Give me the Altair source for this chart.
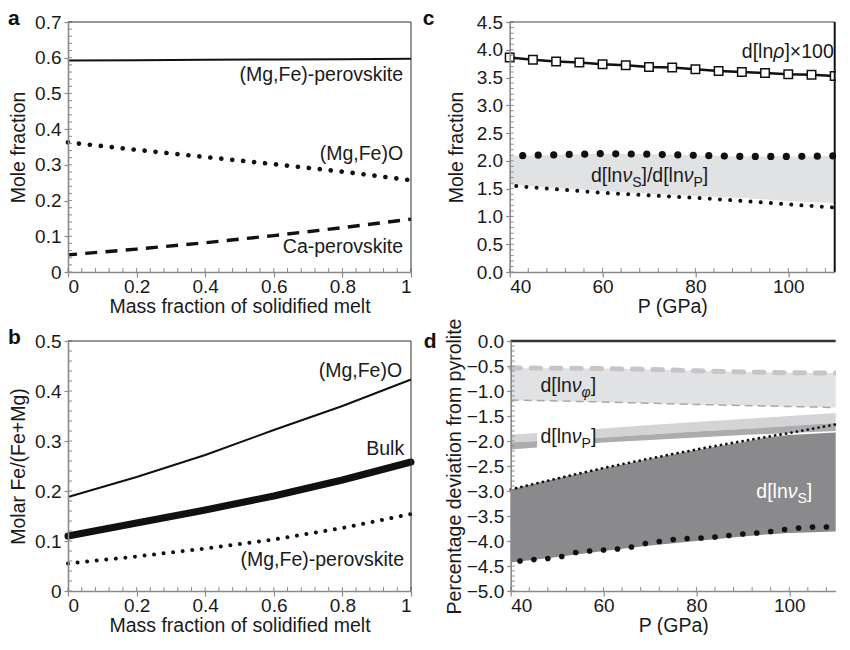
import altair as alt
import pandas as pd

FONT = "Liberation Sans"
INK = "#1a1a1a"
AX = "#8a8a8a"

# ---------------- data ----------------
# panel a: mole fraction vs mass fraction of solidified melt
a_frac = [0.0, 0.2, 0.4, 0.6, 0.8, 1.0]
a_mgpv = [0.592, 0.593, 0.594, 0.595, 0.596, 0.597]
a_mgo = [0.363, 0.342, 0.322, 0.302, 0.281, 0.257]
a_capv = [0.048, 0.064, 0.082, 0.102, 0.124, 0.148]

# panel b: molar Fe/(Fe+Mg)
b_frac = [0.0, 0.2, 0.4, 0.6, 0.8, 1.0]
b_mgo = [0.188, 0.228, 0.272, 0.322, 0.370, 0.423]
b_bulk = [0.110, 0.136, 0.162, 0.190, 0.222, 0.258]
b_mgpv = [0.055, 0.069, 0.085, 0.103, 0.126, 0.154]

# panel c
c_p_sq = [40, 45, 50, 55, 60, 65, 70, 75, 80, 85, 90, 95, 100, 105, 110]
c_rho = [3.86, 3.82, 3.79, 3.77, 3.74, 3.72, 3.69, 3.68, 3.65, 3.62, 3.60, 3.58, 3.56, 3.55, 3.53]
c_p = [40, 50, 60, 70, 80, 90, 100, 110]
c_ratio_hi = [2.09, 2.11, 2.13, 2.12, 2.10, 2.08, 2.08, 2.09]
c_band_lo = [1.57, 1.51, 1.46, 1.41, 1.37, 1.33, 1.28, 1.24]
c_ratio_lo = [1.555, 1.49, 1.425, 1.38, 1.336, 1.28, 1.217, 1.16]

# panel d
d_p = [40, 50, 60, 70, 80, 90, 100, 110]
d_phi_hi = [-0.54, -0.545, -0.55, -0.57, -0.595, -0.62, -0.635, -0.64]
d_phi_lo = [-1.18, -1.20, -1.22, -1.245, -1.27, -1.29, -1.31, -1.33]
d_vp_hi = [-1.87, -1.82, -1.75, -1.68, -1.62, -1.56, -1.50, -1.44]
d_vp_mid = [-2.03, -1.98, -1.93, -1.87, -1.81, -1.76, -1.70, -1.64]
d_vp_lo = [-2.17, -2.10, -2.03, -1.98, -1.93, -1.88, -1.84, -1.80]
d_vs_p = [40, 50, 60, 70, 80, 90, 95, 100, 110]
d_vs_top = [-2.97, -2.75, -2.55, -2.36, -2.18, -2.02, -1.93, -1.88, -1.83]
d_vs_bot = [-4.43, -4.32, -4.20, -4.09, -4.00, -3.91, -3.87, -3.84, -3.81]
d_vs_line = [-2.97, -2.75, -2.54, -2.35, -2.17, -2.00, -1.84, -1.67]
d_dot_p = [42, 45, 48, 51, 54, 57, 60, 63, 66, 69, 72, 75, 78, 81, 84, 87, 90, 93, 96, 99, 102, 105, 108]
d_dot_v = [-4.40, -4.37, -4.35, -4.31, -4.23, -4.20, -4.18, -4.16, -4.12, -4.05, -4.01, -3.97,
           -3.95, -3.94, -3.92, -3.89, -3.86, -3.84, -3.81, -3.77, -3.74, -3.72, -3.72]

# tick values
a_xticks = [0, 0.2, 0.4, 0.6, 0.8, 1.0]
a_yticks = [0, 0.1, 0.2, 0.3, 0.4, 0.5, 0.6, 0.7]
b_yticks = [0, 0.1, 0.2, 0.3, 0.4, 0.5]
c_xticks = [40, 60, 80, 100]
c_yticks = [0.0, 0.5, 1.0, 1.5, 2.0, 2.5, 3.0, 3.5, 4.0, 4.5]
d_yticks = [0.0, -0.5, -1.0, -1.5, -2.0, -2.5, -3.0, -3.5, -4.0, -4.5, -5.0]
minor_frac = [round(i * 0.04, 2) for i in range(26)]
minor_a_y = [round(i * 0.02, 2) for i in range(36)]
minor_b_y = [round(i * 0.02, 2) for i in range(26)]
minor_p = list(range(40, 111, 4))
minor_c_y = [round(i * 0.1, 1) for i in range(46)]
minor_d_y = [round(-i * 0.1, 1) for i in range(51)]

WL, WR, H = 343, 325, 250
FS = 19.5   # titles / annotations
LFS = 19    # tick labels
SUB = 14

CW = {'d': .556, '[': .278, 'l': .222, 'n': .556, ']': .278, '/': .278, '×': .584,
      '1': .556, '0': .556, 'S': .667, 'P': .667, 'ν': .5, 'ρ': .573, 'φ': .649}


def xaxis(values, title, expr=None, fmt=None):
    kw = dict(values=values, title=title, tickSize=5, labelPadding=15.5,
              labelBaseline="alphabetic", titleY=40.5, titleBaseline="alphabetic", zindex=1)
    if expr:
        kw["labelExpr"] = expr
    if fmt:
        kw["format"] = fmt
    return alt.Axis(**kw)


def yaxis(values, title, tx, h, expr=None, fmt=None):
    kw = dict(values=values, title=title, tickSize=4, labelPadding=3,
              titleX=tx, titleY=h / 2, titleAngle=270, titleBaseline="alphabetic",
              titleAlign="center", zindex=1)
    if expr:
        kw["labelExpr"] = expr
    if fmt:
        kw["format"] = fmt
    return alt.Axis(**kw)


def make_enc(xdom, ydom, xax, yax):
    X = alt.X("x:Q", scale=alt.Scale(domain=xdom, nice=False, zero=False), axis=xax)
    Y = alt.Y("y:Q", scale=alt.Scale(domain=ydom, nice=False, zero=False), axis=yax)
    return X, Y


def line(xs, ys, X, Y, **mk):
    df = pd.DataFrame({"x": xs, "y": ys})
    return alt.Chart(df).mark_line(strokeJoin="round", **mk).encode(x=X, y=Y)


def band(xs, y1, y2, X, Y, color):
    df = pd.DataFrame({"x": xs, "y": y1, "y2": y2})
    return alt.Chart(df).mark_area(color=color, opacity=1).encode(x=X, y=Y, y2=alt.Y2("y2:Q"))


def minor_ticks(xvals, yvals, X, Y, w, h):
    dx = pd.DataFrame({"x": xvals})
    dy = pd.DataFrame({"y": yvals})
    tx = alt.Chart(dx).mark_rule(color=AX, strokeWidth=1).encode(
        x=X, y=alt.value(h), y2=alt.value(h - 4))
    ty = alt.Chart(dy).mark_rule(color=AX, strokeWidth=1).encode(
        y=Y, x=alt.value(0), x2=alt.value(4))
    return [tx, ty]


def frame(w, h, top_w=1.0, top_c="#333", right=True, right_w=1.0, right_c="#333"):
    df = pd.DataFrame({"k": [0]})
    out = [alt.Chart(df).mark_rule(color=top_c, strokeWidth=top_w).encode(
        x=alt.value(0), x2=alt.value(w), y=alt.value(0))]
    if right:
        out.append(alt.Chart(df).mark_rule(color=right_c, strokeWidth=right_w).encode(
            x=alt.value(w), y=alt.value(0), y2=alt.value(h)))
    return out


def letter(ch, px, py):
    df = pd.DataFrame({"k": [0]})
    return alt.Chart(df).mark_text(text=ch, font=FONT, fontSize=21, fontWeight="bold",
                                   align="left", baseline="alphabetic", color="#111").encode(
        x=alt.value(px), y=alt.value(py))


def label(x, y, text, X, Y, align="right", color=INK, size=FS):
    df = pd.DataFrame({"x": [x], "y": [y]})
    return alt.Chart(df).mark_text(text=text, font=FONT, fontSize=size, align=align,
                                   baseline="alphabetic", color=color).encode(x=X, y=Y)


def rich(x, y, parts, X, Y, color=INK):
    df = pd.DataFrame({"x": [x], "y": [y]})
    out = []
    off = 0.0
    for text, size, italic, dy in parts:
        out.append(alt.Chart(df).mark_text(
            text=text, font=FONT, fontSize=size, fontStyle="italic" if italic else "normal",
            align="left", baseline="alphabetic", dx=off, dy=dy, color=color).encode(x=X, y=Y))
        off += sum(CW.get(ch, 0.55) for ch in text) * size
    return out


def nu(sub, sub_italic=False):
    return [("d[ln", FS, False, 0), ("ν", FS, True, 0), (sub, SUB, sub_italic, 5), ("]", FS, False, 0)]


# ---------------- panel a ----------------
frac_expr = "datum.value == 0 ? '0' : datum.value == 1 ? '1' : format(datum.value, '.1f')"
y0_expr = "datum.value == 0 ? '0' : format(datum.value, '.1f')"
Xa, Ya = make_enc([0, 1], [0, 0.7], xaxis(a_xticks, "Mass fraction of solidified melt", expr=frac_expr),
                  yaxis(a_yticks, "Mole fraction", -44, H, expr=y0_expr))
pa = alt.layer(
    line(a_frac, a_mgpv, Xa, Ya, color="#111", strokeWidth=2),
    line(a_frac, a_mgo, Xa, Ya, color="#111", strokeWidth=4.7, strokeDash=[0.01, 11], strokeCap="round"),
    line(a_frac, a_capv, Xa, Ya, color="#111", strokeWidth=3.4, strokeDash=[12, 8.3], strokeDashOffset=3),
    label(0.977, 0.536, "(Mg,Fe)-perovskite", Xa, Ya),
    label(0.977, 0.315, "(Mg,Fe)O", Xa, Ya),
    label(0.977, 0.052, "Ca-perovskite", Xa, Ya),
    *minor_ticks(minor_frac, minor_a_y, Xa, Ya, WL, H),
    *frame(WL, H),
    letter("a", -60, 3),
).properties(width=WL, height=H)

# ---------------- panel b ----------------
Xb, Yb = make_enc([0, 1], [0, 0.5], xaxis(a_xticks, "Mass fraction of solidified melt", expr=frac_expr),
                  yaxis(b_yticks, "Molar Fe/(Fe+Mg)", -44, H, expr=y0_expr))
pb = alt.layer(
    line(b_frac, b_mgo, Xb, Yb, color="#111", strokeWidth=2),
    line(b_frac, b_bulk, Xb, Yb, color="#111", strokeWidth=7, strokeCap="round"),
    line(b_frac, b_mgpv, Xb, Yb, color="#111", strokeWidth=4, strokeDash=[0.01, 9.6], strokeCap="round"),
    label(0.974, 0.428, "(Mg,Fe)O", Xb, Yb),
    label(0.98, 0.272, "Bulk", Xb, Yb),
    label(0.98, 0.051, "(Mg,Fe)-perovskite", Xb, Yb),
    *minor_ticks(minor_frac, minor_b_y, Xb, Yb, WL, H),
    *frame(WL, H),
    letter("b", -60, 3),
).properties(width=WL, height=H)

# ---------------- panel c ----------------
Xc, Yc = make_enc([40, 110], [0, 4.5], xaxis(c_xticks, "P (GPa)", fmt="d"),
                  yaxis(c_yticks, "Mole fraction", -47, H, fmt=".1f"))
sq_df = pd.DataFrame({"x": c_p_sq, "y": c_rho})
pc = alt.layer(
    band(c_p, c_ratio_hi, c_band_lo, Xc, Yc, "#e1e2e4"),
    line(c_p, c_ratio_lo, Xc, Yc, color="#111", strokeWidth=4, strokeDash=[0.01, 10.2],
         strokeDashOffset=3.7, strokeCap="round"),
    line(c_p, c_ratio_hi, Xc, Yc, color="#111", strokeWidth=7.2, strokeDash=[0.01, 15.5],
         strokeDashOffset=2.5, strokeCap="round"),
    line(c_p_sq, c_rho, Xc, Yc, color="#111", strokeWidth=2.5),
    alt.Chart(sq_df).mark_point(shape="square", size=72, filled=True, fill="white",
                                stroke="#111", strokeWidth=1.5, opacity=1).encode(x=Xc, y=Yc),
    *rich(90.0, 3.86, [("d[ln", FS, False, 0), ("ρ", FS, True, 0), ("]×100", FS, False, 0)], Xc, Yc),
    *rich(57.5, 1.62, nu("S") + [("/", FS, False, 0)] + nu("P"), Xc, Yc),
    *minor_ticks(minor_p, minor_c_y, Xc, Yc, WR, H),
    *frame(WR, H, top_w=1, top_c="#444", right_w=2, right_c="#111"),
    letter("c", -87, 3),
).properties(width=WR, height=H)

# ---------------- panel d ----------------
Xd, Yd = make_enc([40, 110], [-5, 0], xaxis(c_xticks, "P (GPa)", fmt="d"),
                  yaxis(d_yticks, "Percentage deviation from pyrolite", -50, H, fmt=".1f"))
dot_df = pd.DataFrame({"x": d_dot_p, "y": d_dot_v})
box_df = pd.DataFrame({"x": [45.7], "x2": [58.0], "y": [-1.6], "y2": [-2.35]})
pd_ = alt.layer(
    band(d_p, d_phi_hi, d_phi_lo, Xd, Yd, "#e1e2e4"),
    line(d_p, d_phi_hi, Xd, Yd, color="#c6c6c8", strokeWidth=5, strokeDash=[9.7, 10.6], strokeCap="round"),
    line(d_p, d_phi_lo, Xd, Yd, color="#a9a9ab", strokeWidth=1.5, strokeDash=[8, 5]),
    band(d_p, d_vp_hi, d_vp_mid, Xd, Yd, "#d4d4d6"),
    band(d_p, d_vp_mid, d_vp_lo, Xd, Yd, "#acacae"),
    band(d_vs_p, d_vs_top, d_vs_bot, Xd, Yd, "#8a8a8c"),
    line(d_p, d_vs_line, Xd, Yd, color="#111", strokeWidth=2.8, strokeDash=[0.01, 5.5], strokeCap="round"),
    alt.Chart(dot_df).mark_circle(size=32, color="#111", opacity=1).encode(x=Xd, y=Yd),
    alt.Chart(box_df).mark_rect(color="white").encode(x=Xd, x2=alt.X2("x2:Q"), y=Yd, y2=alt.Y2("y2:Q")),
    *rich(46.4, -1.018, nu("φ", True), Xd, Yd),
    *rich(46.4, -2.03, nu("P"), Xd, Yd),
    *rich(92.9, -3.14, nu("S"), Xd, Yd, color="white"),
    *minor_ticks(minor_p, minor_d_y, Xd, Yd, WR, H),
    *frame(WR, H, top_w=2.5, top_c="#333", right=False),
    letter("d", -87, 7),
).properties(width=WR, height=H)

chart = alt.vconcat(
    alt.hconcat(pa, pc, spacing=8.7),
    alt.hconcat(pb, pd_, spacing=8.7),
    spacing=2,
).properties(
    padding={"left": 0, "top": 0, "right": -6, "bottom": 0},
).configure_view(stroke=None).configure_axis(
    labelFont=FONT, titleFont=FONT, labelFontSize=LFS, titleFontSize=FS,
    labelColor=INK, titleColor=INK, titleFontWeight="normal",
    domainColor=AX, domainWidth=1.6, tickColor=AX, tickWidth=1.2, grid=False,
)

chart.save("out.html", embed_options={"renderer": "svg", "actions": False})
